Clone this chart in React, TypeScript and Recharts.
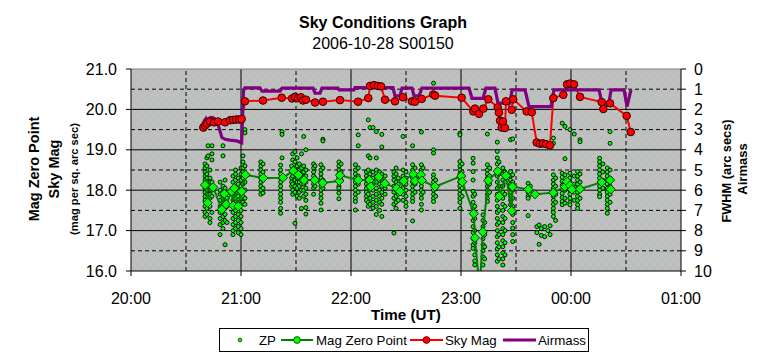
import React from 'react';
import { ComposedChart, Scatter, Line, XAxis, YAxis, CartesianGrid, ReferenceLine } from 'recharts';

const FONT = '"Liberation Sans", Arial, Helvetica, sans-serif';

// Axis ticks and grid positions
const hourTicks = [20, 21, 22, 23, 24, 25];
const hourLines = [21, 22, 23, 24];
const halfHourLines = [20.5, 21.5, 22.5, 23.5, 24.5];
const magTicks = [16, 17, 18, 19, 20, 21];
const magLines = [17, 18, 19, 20];
const magHalfLines = [16.5, 17.5, 18.5, 19.5, 20.5];
const airTicks = [0, 1, 2, 3, 4, 5, 6, 7, 8, 9, 10];

// Sky Mag: [time (h UT, >24 after midnight), mag]
const skyMag: [number, number][] = [
  [20.657, 19.55], [20.673, 19.6], [20.691, 19.65], [20.718, 19.7], [20.755, 19.68], [20.791, 19.7],
  [20.855, 19.68], [20.9, 19.73], [20.927, 19.74], [20.955, 19.75], [20.982, 19.75], [21.006, 19.76],
  [21.036, 20.2], [21.2, 20.22], [21.37, 20.29], [21.464, 20.27], [21.49, 20.31], [21.518, 20.28],
  [21.545, 20.3], [21.564, 20.22], [21.591, 20.24], [21.673, 20.17], [21.745, 20.19], [21.9, 20.23],
  [22.064, 20.19], [22.157, 20.28], [22.173, 20.58], [22.209, 20.6], [22.245, 20.58], [22.273, 20.57],
  [22.309, 20.24], [22.4, 20.2], [22.473, 20.3], [22.555, 20.2], [22.582, 20.19], [22.643, 20.26],
  [22.748, 20.37], [22.764, 20.34], [23.006, 20.29], [23.112, 19.95], [23.127, 20.02], [23.164, 19.89],
  [23.203, 20.02], [23.248, 20.25], [23.334, 20.05], [23.345, 19.92], [23.355, 19.72], [23.37, 19.55],
  [23.382, 19.7], [23.4, 19.54], [23.409, 20.2], [23.461, 19.99], [23.475, 20.25], [23.597, 19.95],
  [23.643, 19.93], [23.688, 19.18], [23.718, 19.15], [23.745, 19.16], [23.773, 19.14], [23.809, 19.11],
  [23.839, 20.28], [23.93, 20.36], [23.964, 20.62], [23.991, 20.64], [24.027, 20.62], [24.082, 20.31],
  [24.279, 20.18], [24.294, 20.01], [24.355, 20.15], [24.506, 19.84], [24.543, 19.44],
];

// Airmass: [time, airmass]
const airmass: [number, number][] = [
  [20.655, 2.75], [20.668, 2.55], [20.682, 2.45], [20.695, 2.6], [20.709, 2.45], [20.727, 2.4],
  [20.745, 2.42], [20.764, 2.48], [20.782, 2.6], [20.8, 2.9], [20.825, 3.38], [20.855, 3.48],
  [20.9, 3.52], [20.961, 3.56], [20.991, 3.62], [21.006, 3.65], [21.023, 1.02], [21.036, 0.93],
  [21.173, 0.93], [21.191, 1.1], [21.355, 1.1], [21.373, 0.95], [21.655, 0.95], [21.673, 1.2],
  [21.718, 1.2], [21.736, 0.95], [21.882, 0.95], [21.891, 1.03], [22.027, 1.03], [22.036, 0.92],
  [22.382, 0.92], [22.4, 1.33], [22.445, 1.33], [22.464, 0.95], [22.555, 0.95], [22.573, 1.33],
  [22.618, 1.33], [22.645, 0.95], [23.073, 0.95], [23.1, 1.45], [23.2, 1.45], [23.227, 0.95],
  [23.309, 0.95], [23.336, 1.69], [23.445, 1.69], [23.464, 1.03], [23.582, 1.03], [23.618, 1.86],
  [23.818, 1.86], [23.845, 1.03], [24.255, 1.03], [24.282, 1.69], [24.345, 1.69], [24.364, 1.03],
  [24.482, 1.03], [24.509, 1.86], [24.545, 1.03],
];

// Mag Zero Point (averaged): [time, mag]
const magZeroPoint: [number, number][] = [
  [20.673, 18.13], [20.697, 17.69], [20.748, 18.07], [20.825, 17.52], [20.848, 17.91], [20.866, 17.65],
  [20.915, 17.97], [20.93, 17.62], [20.939, 18.05], [20.975, 17.6], [21.006, 17.97], [21.041, 18.38],
  [21.203, 18.3], [21.382, 18.31], [21.475, 18.48], [21.521, 18.38], [21.573, 18.25], [21.67, 18.25],
  [21.743, 18.18], [21.894, 18.23], [21.9, 18.37], [22.066, 18.25], [22.168, 18.25], [22.179, 18.09],
  [22.252, 18.33], [22.309, 18.17], [22.415, 18.05], [22.445, 17.97], [22.48, 18.23], [22.566, 18.4],
  [22.582, 18.23], [22.636, 18.38], [22.645, 18.24], [22.764, 18.09], [23.003, 18.35], [23.012, 18.21],
  [23.116, 17.42], [23.127, 16.82], [23.159, 15.85], [23.177, 15.85], [23.198, 16.97], [23.248, 18.24],
  [23.334, 18.47], [23.348, 17.85], [23.409, 18.36], [23.461, 17.49], [23.468, 18.09], [23.612, 18.02],
  [23.673, 17.9], [23.839, 17.94], [23.945, 18.09], [23.964, 18.21], [23.991, 18.12], [24.009, 18.02],
  [24.082, 18.03], [24.279, 18.2], [24.355, 18.25], [24.361, 18.02],
];

// ZP individual measurements: [time, list of mags at that time]
const zpColumns: [number, number[]][] = [
  [20.673, [18.65, 18.55, 18.45, 18.35, 18.25, 18.15, 18.05, 17.95, 17.85, 17.75, 17.6, 17.45, 17.35]],
  [20.69, [18.8, 18.6, 18.4, 18.3, 18.2, 18.1, 18.0, 17.9, 17.7, 17.55, 17.4]],
  [20.7, [19.1, 18.85]],
  [20.718, [18.5, 18.3, 18.2, 18.1, 18.0, 17.9, 17.8, 17.6, 17.3, 17.2]],
  [20.736, [19.1, 18.9, 18.75, 18.2, 18.0, 17.85, 17.45]],
  [20.81, [18.2, 18.0, 17.9, 17.75, 17.6, 17.45, 17.3, 17.15, 16.9]],
  [20.836, [19.1, 18.85, 18.1, 17.95, 17.8, 17.65, 17.5, 17.35, 17.2, 17.05]],
  [20.855, [18.25, 18.05, 17.85, 17.7, 17.55, 17.4, 17.25, 16.65]],
  [20.873, [17.95, 17.8, 17.6, 17.2]],
  [20.927, [18.35, 18.2, 18.05, 17.9, 17.75, 17.6, 17.45, 17.3, 17.15, 17.0, 16.9]],
  [20.95, [18.5, 18.4, 18.25, 18.1, 17.95, 17.8, 17.65, 17.5, 17.35, 17.2, 17.05]],
  [20.975, [18.3, 18.15, 18.0, 17.85, 17.7, 17.55, 17.4, 17.25, 17.1, 16.95]],
  [21.0, [18.55, 18.4, 18.25, 18.1, 17.95, 17.8, 17.65, 17.5, 17.35, 17.2, 17.05, 16.9]],
  [21.018, [18.85, 18.7, 18.55, 18.45, 18.3, 18.15, 18.0, 17.85, 17.7]],
  [21.036, [19.5, 19.42, 18.6, 18.4, 18.2, 18.0, 17.8, 17.65]],
  [21.18, [18.7, 18.6, 18.5, 18.4, 18.3, 18.2, 18.1, 18.0, 17.9]],
  [21.2, [18.65, 18.45, 18.25, 18.05, 17.93]],
  [21.36, [18.62, 18.5, 18.4, 18.3, 18.2, 18.1, 18.0, 17.9, 17.8, 17.7, 17.55, 17.43]],
  [21.373, [19.45, 19.38, 18.8]],
  [21.46, [18.6, 18.45, 18.3, 18.2, 18.1]],
  [21.47, [18.9, 18.75, 18.5, 18.35, 18.15, 18.0, 17.9]],
  [21.49, [18.95, 18.7, 18.55, 18.4, 18.25, 18.1, 17.95, 17.18]],
  [21.51, [18.8, 18.6, 18.45, 18.3, 18.2, 18.05, 17.85]],
  [21.53, [18.65, 18.5, 18.35, 18.2, 18.1, 17.95, 17.8]],
  [21.55, [18.9, 18.55, 18.4, 18.25, 18.15, 18.0, 17.55]],
  [21.57, [19.33, 18.6, 18.45, 18.3, 18.15, 18.0, 17.85]],
  [21.59, [19.0, 18.5, 18.35, 18.2, 18.05, 17.9, 17.75, 17.57, 17.41]],
  [21.66, [18.65, 18.55, 18.45, 18.35, 18.25, 18.15, 18.05, 17.9]],
  [21.673, [18.6, 18.3, 18.1]],
  [21.727, [18.63, 18.5, 18.4, 18.3, 18.2, 18.1, 18.0, 17.9, 17.8, 17.68, 17.51]],
  [21.745, [19.26, 19.22, 18.55, 18.25, 18.05]],
  [21.89, [18.7, 18.6, 18.5, 18.4, 18.3, 18.2, 18.1, 18.05, 17.93, 17.79]],
  [21.91, [18.65, 18.45, 18.25]],
  [22.04, [18.63, 18.5, 18.4, 18.3, 18.2, 18.1, 18.0, 17.9, 17.8, 17.72, 17.51]],
  [22.066, [19.37, 19.1, 18.55, 18.35, 18.15, 17.95]],
  [22.14, [18.45, 18.35, 18.25, 18.15, 18.05, 17.95, 17.85, 17.75]],
  [22.157, [19.74, 18.85, 18.5, 18.3, 18.1, 17.9, 17.7, 17.6]],
  [22.173, [19.55, 18.8, 18.4, 18.2, 18.0, 17.8, 17.65]],
  [22.2, [19.55, 18.45, 18.3, 18.15, 18.0, 17.85, 17.7, 17.56]],
  [22.23, [19.45, 18.8, 18.5, 18.35, 18.2, 18.05, 17.9, 17.75, 17.6, 17.4]],
  [22.26, [18.45, 18.3, 18.15, 18.0, 17.85, 17.7, 17.5]],
  [22.28, [19.38, 19.07, 18.4, 18.25, 18.1, 17.95, 17.8, 17.65, 17.35]],
  [22.31, [18.35, 18.2, 18.05, 17.9]],
  [22.39, [18.45, 18.35, 18.25, 18.1, 17.95, 17.8, 17.65, 16.94]],
  [22.41, [18.55, 18.4, 18.2, 18.0, 17.85, 17.7, 17.55]],
  [22.43, [18.3, 18.15, 18.0, 17.9, 17.75]],
  [22.473, [19.33, 18.5, 18.35, 18.2, 18.05, 17.9, 17.75]],
  [22.5, [18.45, 18.3, 18.15, 18.0, 17.85, 17.7, 17.6]],
  [22.56, [19.1, 18.63, 18.5, 18.4, 18.3, 18.2, 18.1, 18.0, 17.9, 17.8, 17.72, 17.24]],
  [22.582, [18.55, 18.35, 18.15, 17.95]],
  [22.64, [19.44, 18.63, 18.5, 18.4, 18.3, 18.2, 18.1, 18.0, 17.9, 17.8, 17.65, 17.51]],
  [22.655, [18.55, 18.25, 17.95]],
  [22.75, [20.65, 19.0, 18.92, 18.38, 18.3, 18.2, 18.1, 18.0, 17.9, 17.8, 17.72]],
  [22.77, [18.25, 18.05, 17.85]],
  [22.99, [19.41, 19.37, 18.71, 18.6, 18.5, 18.4, 18.3, 18.2, 18.1, 18.0, 17.9, 17.8, 17.7, 17.55]],
  [23.01, [18.65, 18.45, 18.25, 18.05, 17.85]],
  [23.11, [18.79, 18.67, 18.46, 18.25, 17.97, 17.85, 17.7, 17.55, 17.4, 17.25, 17.1, 16.95, 16.8, 16.65, 16.56]],
  [23.125, [17.9, 17.6, 17.3, 17.0, 16.7, 16.4, 16.25, 16.15]],
  [23.2, [17.39, 17.25, 17.1, 16.95, 16.8, 16.65, 16.5, 16.35, 16.15]],
  [23.215, [17.2, 16.9, 16.6, 16.3]],
  [23.24, [19.39, 18.63, 18.5, 18.4, 18.3, 18.2, 18.1, 18.0, 17.9, 17.8, 17.72]],
  [23.26, [18.55, 18.35, 18.15, 17.95]],
  [23.33, [19.19, 18.96, 18.8, 18.65, 18.5, 18.35, 18.2, 18.05, 17.9, 17.75, 17.6, 17.45, 17.3, 17.15, 17.0, 16.85, 16.7, 16.55, 16.4, 16.24]],
  [23.345, [18.7, 18.4, 18.1, 17.8, 17.5, 17.2, 16.9, 16.6, 16.3]],
  [23.38, [18.55, 18.4, 18.25, 18.1, 17.95, 17.8, 17.65, 17.5, 17.35, 17.2, 17.05, 16.9, 16.75, 16.6, 16.45, 16.3, 16.15]],
  [23.4, [18.45, 18.2, 17.9, 17.6, 17.3, 17.0, 16.7, 16.4]],
  [23.45, [19.25, 18.46, 18.35, 18.25, 18.15, 18.05, 17.95, 17.85, 17.75, 17.64]],
  [23.47, [19.27, 18.38, 18.2, 18.0, 17.8, 17.6, 17.4, 17.2, 17.06, 16.9, 16.73]],
  [23.61, [18.17, 18.05, 17.95, 17.85, 17.8, 17.37]],
  [23.63, [18.1, 17.9]],
  [23.69, [17.1, 16.95]],
  [23.71, [17.14, 16.66]],
  [23.73, [17.05, 16.88]],
  [23.76, [17.1, 16.85]],
  [23.79, [17.0]],
  [23.81, [17.12, 16.9]],
  [23.84, [19.29, 19.16, 18.38, 18.25, 18.15, 18.05, 17.95, 17.85, 17.75, 17.65, 17.55, 17.45, 17.35]],
  [23.86, [18.3, 18.1, 17.9, 17.7, 17.25]],
  [23.92, [19.66, 18.42, 18.32, 18.22, 18.12, 18.02, 17.92, 17.82, 17.72, 17.64]],
  [23.945, [19.58, 18.78, 18.38, 18.2, 18.0, 17.8, 17.68]],
  [23.99, [19.5, 18.42, 18.3, 18.2, 18.1, 18.0, 17.9, 17.8, 17.7, 17.64]],
  [24.03, [19.39, 18.35, 18.15, 17.95, 17.75]],
  [24.06, [18.46, 18.35, 18.25, 18.15, 18.05, 17.95, 17.85, 17.75, 17.64, 17.55]],
  [24.082, [19.25, 19.2, 18.4, 18.2, 18.0, 17.8]],
  [24.26, [18.79, 18.7, 18.6, 18.5, 18.4, 18.3, 18.2, 18.1, 18.0, 17.9, 17.84]],
  [24.29, [18.65, 18.45, 18.25, 18.05]],
  [24.33, [18.55, 18.45, 18.35, 18.25, 18.15, 18.05, 17.95, 17.85, 17.75, 17.65, 17.55, 17.43]],
  [24.355, [19.45, 19.16, 18.5, 18.3, 18.1, 17.9, 17.7]],
];

const zpData = zpColumns.flatMap(([t, vals]) => vals.map((v) => ({ t, v })));
const magZpData = magZeroPoint.map(([t, v]) => ({ t, v }));
const skyMagData = skyMag.map(([t, v]) => ({ t, v }));
const airmassData = airmass.map(([t, a]) => ({ t, a }));

const fmtHour = (h: number) => String(Math.round(h) % 24).padStart(2, '0') + ':00';

const Diamond = (props: any) => {
  const { cx, cy, index } = props;
  if (cx == null || cy == null || isNaN(cx) || isNaN(cy)) return <g key={`d${index}`} />;
  const s = 4.6;
  return (
    <polygon
      key={`d${index}`}
      points={`${cx},${cy - s} ${cx + s},${cy} ${cx},${cy + s} ${cx - s},${cy}`}
      fill="#00FF00"
      stroke="#002200"
      strokeWidth={0.9}
    />
  );
};

const RedDot = (props: any) => {
  const { cx, cy, index } = props;
  if (cx == null || cy == null || isNaN(cx) || isNaN(cy)) return <g key={`r${index}`} />;
  return <circle key={`r${index}`} cx={cx} cy={cy} r={3.8} fill="#FF0000" stroke="#300000" strokeWidth={1} />;
};

const ZpDot = (props: any) => {
  const { cx, cy } = props;
  if (cx == null || cy == null) return <g />;
  return <circle cx={cx} cy={cy} r={2} fill="#00FF00" stroke="#000" strokeWidth={0.9} />;
};

const tickStyle = { fill: '#000', fontSize: 16, fontFamily: FONT };

export default function App() {
  return (
    <div style={{ position: 'relative', width: 764, height: 357, background: '#fff', fontFamily: FONT }}>
      <style>{'body{margin:0;background:#fff;}'}</style>
      <ComposedChart width={764} height={357} margin={{ top: 69, right: 43, bottom: 56, left: 71 }}>
        <defs>
          <pattern id="stipple" width="8" height="8" patternUnits="userSpaceOnUse">
            <rect width="8" height="8" fill="#C0C0C0" />
            <rect x="1" y="1" width="1" height="1" fill="#8AB48A" />
            <rect x="5" y="3" width="1" height="1" fill="#8AB48A" />
            <rect x="3" y="6" width="1" height="1" fill="#A0BCA0" />
            <rect x="7" y="5" width="1" height="1" fill="#AABEAA" />
          </pattern>
        </defs>
        <CartesianGrid yAxisId="left" fill="url(#stipple)" fillOpacity={1} horizontal={false} vertical={false} stroke="none" />
        <XAxis
          type="number"
          dataKey="t"
          domain={[20, 25]}
          ticks={hourTicks}
          tickFormatter={fmtHour}
          allowDataOverflow
          height={30}
          tickSize={5}
          tickMargin={17}
          stroke="#000"
          tick={tickStyle}
          interval={0}
        />
        <YAxis
          yAxisId="left"
          type="number"
          domain={[16, 21]}
          ticks={magTicks}
          tickFormatter={(v: number) => v.toFixed(1)}
          allowDataOverflow
          width={60}
          tickSize={5}
          tickMargin={9}
          stroke="#000"
          tick={tickStyle}
          interval={0}
        />
        <YAxis
          yAxisId="right"
          orientation="right"
          type="number"
          domain={[0, 10]}
          reversed
          ticks={airTicks}
          allowDataOverflow
          width={40}
          tickSize={5}
          tickMargin={8}
          stroke="#000"
          tick={tickStyle}
          interval={0}
        />
        {magHalfLines.map((y) => (
          <ReferenceLine key={`mh${y}`} yAxisId="left" y={y} stroke="#000" strokeWidth={1} strokeDasharray="4 3" zIndex={-90} />
        ))}
        {magLines.map((y) => (
          <ReferenceLine key={`ml${y}`} yAxisId="left" y={y} stroke="#000" strokeWidth={1} zIndex={-90} />
        ))}
        {halfHourLines.map((x) => (
          <ReferenceLine key={`hh${x}`} yAxisId="left" x={x} stroke="#000" strokeWidth={1} strokeDasharray="4 3" zIndex={-90} />
        ))}
        {hourLines.map((x) => (
          <ReferenceLine key={`hl${x}`} yAxisId="left" x={x} stroke="#000" strokeWidth={1} zIndex={-90} />
        ))}
        <ReferenceLine yAxisId="left" y={21} stroke="#808080" strokeWidth={1} zIndex={-90} />
        <Scatter
          name="ZP"
          data={zpData}
          dataKey="v"
          yAxisId="left"
          isAnimationActive={false}
          shape={ZpDot}
          zIndex={390}
        />
        <Line
          name="Mag Zero Point"
          data={magZpData}
          dataKey="v"
          yAxisId="left"
          type="linear"
          stroke="#008000"
          strokeWidth={2}
          dot={Diamond}
          activeDot={false}
          isAnimationActive={false}
          zIndex={400}
        />
        <Line
          name="Sky Mag"
          data={skyMagData}
          dataKey="v"
          yAxisId="left"
          type="linear"
          stroke="#FF0000"
          strokeWidth={2}
          dot={RedDot}
          activeDot={false}
          isAnimationActive={false}
          zIndex={401}
        />
        <Line
          name="Airmass"
          data={airmassData}
          dataKey="a"
          yAxisId="right"
          type="linear"
          stroke="#800080"
          strokeWidth={3.2}
          dot={false}
          activeDot={false}
          isAnimationActive={false}
          zIndex={402}
        />
      </ComposedChart>
      <svg
        width={764}
        height={357}
        style={{ position: 'absolute', left: 0, top: 0, pointerEvents: 'none' }}
        fontFamily={FONT}
      >
        <text x={383} y={28} textAnchor="middle" fontSize={16} fontWeight="bold" fill="#000">Sky Conditions Graph</text>
        <text x={383} y={49} textAnchor="middle" fontSize={16} fill="#000">2006-10-28 S00150</text>
        <text transform="translate(39,169) rotate(-90)" textAnchor="middle" fontSize={14.5} fontWeight="bold" fill="#000">Mag Zero Point</text>
        <text transform="translate(58.5,169) rotate(-90)" textAnchor="middle" fontSize={14.5} fontWeight="bold" fill="#000">Sky Mag</text>
        <text transform="translate(77.5,179) rotate(-90)" textAnchor="middle" fontSize={11.2} fontWeight="bold" fill="#000">(mag per sq. arc sec)</text>
        <text transform="translate(731,171) rotate(-90)" textAnchor="middle" fontSize={12.8} fontWeight="bold" fill="#000">FWHM (arc secs)</text>
        <text transform="translate(746.5,169) rotate(-90)" textAnchor="middle" fontSize={13} fontWeight="bold" fill="#000">Airmass</text>
        <text x={406} y={320} textAnchor="middle" fontSize={15.2} fontWeight="bold" fill="#000">Time (UT)</text>
        {/* Legend */}
        <rect x={219.5} y={328.5} width={369} height={23} fill="#fff" stroke="#000" strokeWidth={1} />
        <circle cx={240} cy={340} r={1.9} fill="#00FF00" stroke="#002800" strokeWidth={0.7} />
        <text x={259} y={344.8} fontSize={13.3} fill="#000">ZP</text>
        <line x1={281} y1={340} x2={313} y2={340} stroke="#008000" strokeWidth={2} />
        <circle cx={297} cy={340} r={3.4} fill="#00FF00" stroke="#003300" strokeWidth={0.8} />
        <text x={316} y={344.8} fontSize={13.3} fill="#000">Mag Zero Point</text>
        <line x1={410} y1={340} x2={443} y2={340} stroke="#FF0000" strokeWidth={2} />
        <circle cx={426.5} cy={340} r={3.4} fill="#FF0000" stroke="#500000" strokeWidth={0.8} />
        <text x={445} y={344.8} fontSize={13.3} fill="#000">Sky Mag</text>
        <line x1={503} y1={340} x2={536} y2={340} stroke="#800080" strokeWidth={3} />
        <text x={538} y={344.8} fontSize={13.3} fill="#000">Airmass</text>
      </svg>
    </div>
  );
}
